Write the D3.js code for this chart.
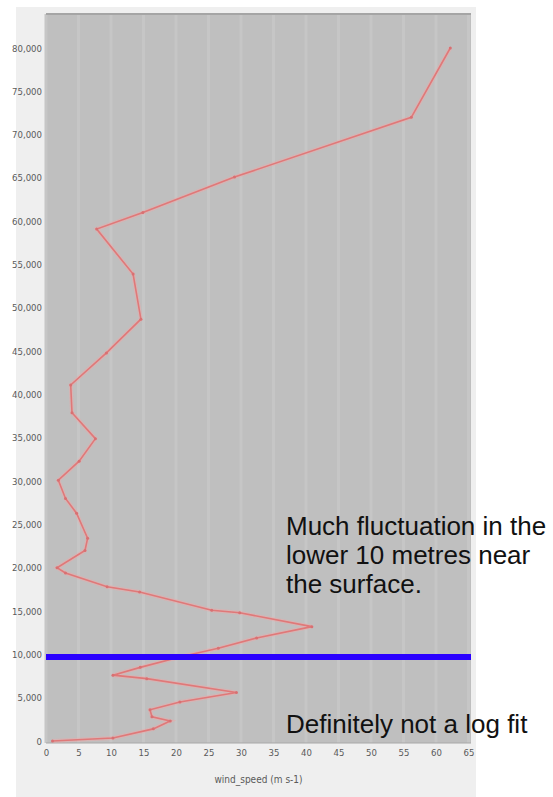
<!DOCTYPE html>
<html>
<head>
<meta charset="utf-8">
<script src="https://cdn.jsdelivr.net/npm/d3@7"></script>
<style>
  body { margin: 0; background: #fff; }
  svg { display: block; }
  .tick text { font-family: "Liberation Sans Narrow", "DejaVu Sans Condensed", sans-serif; font-size: 9.5px; fill: #5a5a5a; }
  .note { font-family: "Liberation Sans", Arial, sans-serif; font-size: 26px; fill: #111; }
</style>
</head>
<body>
<div id="chart"></div>
<script>
// wind speed profile (m s-1) against height
const heights = [0, 350, 1400, 2300, 2800, 3600, 4500, 5600, 7200, 7600, 8500, 9700, 10700, 11900,
  13200, 14800, 15100, 17200, 17800, 19400, 20000, 22000, 23400, 26300, 28000, 30100, 32300,
  34900, 37900, 41100, 44800, 48700, 53900, 59100, 61000, 65100, 72000, 80000];
const speeds = [1.0, 10.3, 16.5, 19.1, 16.3, 16.0, 20.6, 29.3, 15.5, 10.3, 14.5, 20.6, 26.5, 32.4,
  40.9, 29.8, 25.5, 14.4, 9.4, 3.0, 1.7, 6.0, 6.4, 4.7, 3.0, 1.9, 5.1,
  7.6, 4.0, 3.8, 9.3, 14.6, 13.4, 7.8, 14.9, 29.0, 56.2, 62.2];
const xTicks = [0, 5, 10, 15, 20, 25, 30, 35, 40, 45, 50, 55, 60, 65];
const yTicks = [0, 5000, 10000, 15000, 20000, 25000, 30000, 35000, 40000, 45000, 50000, 55000, 60000, 65000, 70000, 75000, 80000];
const markerHeight = [9700];
const xTitle = 'wind_speed (m s-1)';
const notes = ['Much fluctuation in the', 'lower 10 metres near', 'the surface.'];
const note2 = 'Definitely not a log fit';

const data = heights.map((h, i) => ({ h: h, v: speeds[i] }));

const width = 553, height = 797;
const plot = { left: 46, right: 471, top: 14, bottom: 743 };

const svg = d3.select('#chart').append('svg')
  .attr('width', width)
  .attr('height', height);

// outer panel
svg.append('rect')
  .attr('x', 16).attr('y', 7)
  .attr('width', 460).attr('height', 790)
  .attr('fill', '#efefef');

// plot background
svg.append('rect')
  .attr('x', plot.left).attr('y', plot.top)
  .attr('width', plot.right - plot.left).attr('height', plot.bottom - plot.top)
  .attr('fill', '#bfbfbf');

//Scales
const x = d3.scaleLinear().domain([0, 65]).range([46, 468.5]);
const y = d3.scaleLinear().domain([0, 80000]).range([741, 48]);

// vertical stripes
svg.append('g')
  .selectAll('line')
  .data(xTicks)
  .enter().append('line')
  .attr('x1', d => x(d)).attr('x2', d => x(d))
  .attr('y1', plot.top).attr('y2', plot.bottom)
  .attr('stroke', '#c6c6c6')
  .attr('stroke-width', 3);

// top border + bottom line
svg.append('line')
  .attr('x1', plot.left).attr('x2', plot.right)
  .attr('y1', plot.top).attr('y2', plot.top)
  .attr('stroke', '#a5a5a5').attr('stroke-width', 2);
svg.append('line')
  .attr('x1', plot.left).attr('x2', plot.right)
  .attr('y1', plot.bottom).attr('y2', plot.bottom)
  .attr('stroke', '#a8a8a8').attr('stroke-width', 1);

//create the axes
const xAxis = d3.axisBottom(x).tickValues(xTicks).tickSize(0).tickPadding(6);
const yAxis = d3.axisLeft(y).tickValues(yTicks).tickSize(0).tickPadding(4)
  .tickFormat(d3.format(','));

const xAxisGroup = svg.append('g')
  .attr('transform', `translate(0, ${plot.bottom})`)
  .call(xAxis);
const yAxisGroup = svg.append('g')
  .attr('transform', `translate(${plot.left}, 0)`)
  .call(yAxis);
xAxisGroup.select('.domain').remove();
yAxisGroup.select('.domain').remove();

svg.append('text')
  .attr('x', (plot.left + plot.right) / 2)
  .attr('y', 783)
  .attr('text-anchor', 'middle')
  .attr('font-family', '"Liberation Sans Narrow", "DejaVu Sans Condensed", sans-serif')
  .attr('font-size', 10)
  .attr('fill', '#5a5a5a')
  .text(xTitle);

// profile line
const line = d3.line()
  .x(d => x(d.v))
  .y(d => y(d.h));

svg.append('path')
  .datum(data)
  .attr('fill', 'none')
  .attr('stroke', '#f2a6a6')
  .attr('stroke-width', 4)
  .attr('stroke-opacity', 0.45)
  .attr('d', line);
svg.append('path')
  .datum(data)
  .attr('fill', 'none')
  .attr('stroke', '#e07878')
  .attr('stroke-width', 1.6)
  .attr('d', line);

svg.append('g')
  .selectAll('circle')
  .data(data)
  .enter().append('circle')
  .attr('cx', d => x(d.v))
  .attr('cy', d => y(d.h))
  .attr('r', 1.5)
  .attr('fill', '#d87072');

// blue 10 m marker
svg.append('g')
  .selectAll('line')
  .data(markerHeight)
  .enter().append('line')
  .attr('x1', plot.left).attr('x2', plot.right)
  .attr('y1', d => y(d)).attr('y2', d => y(d))
  .attr('stroke', '#2a00ff')
  .attr('stroke-width', 6);

// annotations
svg.append('text')
  .attr('class', 'note')
  .selectAll('tspan')
  .data(notes)
  .enter().append('tspan')
  .attr('x', 286)
  .attr('y', (d, i) => 535 + i * 29)
  .text(d => d);

svg.append('text')
  .attr('class', 'note')
  .attr('x', 286)
  .attr('y', 733)
  .text(note2);
</script>
</body>
</html>
